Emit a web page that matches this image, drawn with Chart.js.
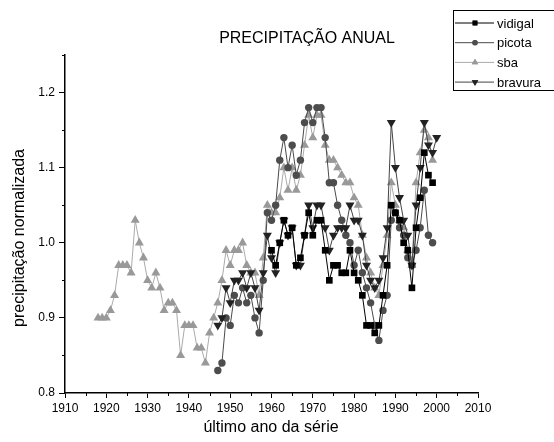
<!DOCTYPE html>
<html>
<head>
<meta charset="utf-8">
<script src="https://cdn.jsdelivr.net/npm/chart.js@4.4.0/dist/chart.umd.min.js"></script>
<style>
  html, body { margin: 0; padding: 0; background: #fff; }
  #wrap { width: 554px; height: 442px; }
</style>
</head>
<body>
<div id="wrap"><canvas id="chart" width="554" height="442"></canvas></div>
<script>
// annual precipitation, normalised, by last year of the series

var sbaYears = [1918,1919,1920,1921,1922,1923,1924,1925,1926,1927,1928,1929,1930,1931,1932,1933,1934,1935,1936,1937,1938,1939,1940,1941,1942,1943,1944,1945,1946,1947,1948,1949,1950,1951,1952,1953,1954,1955,1956,1957,1958,1959,1960,1961,1962,1963,1964,1965,1966,1967,1968,1969,1970,1971,1972,1973,1974,1975,1976,1977,1978,1979,1980,1981,1982,1983,1984,1985,1986,1987,1988,1989,1990,1991,1992,1993,1994,1995,1996,1997,1998,1999];
var sbaValues = [0.90,0.90,0.90,0.91,0.93,0.97,0.97,0.97,0.96,1.03,1.00,0.98,0.95,0.94,0.96,0.94,0.91,0.92,0.92,0.91,0.85,0.89,0.89,0.89,0.86,0.86,0.84,0.88,0.90,0.92,0.95,0.99,0.97,0.99,0.99,1.00,0.97,0.96,0.96,0.93,0.98,1.05,1.04,1.04,1.06,1.10,1.07,1.10,1.07,1.09,1.13,1.17,1.14,1.17,1.17,1.13,1.11,1.11,1.10,1.09,1.08,1.08,1.06,1.05,1.01,0.98,0.96,0.94,0.93,0.97,1.01,1.08,1.05,1.03,1.02,0.99,0.97,1.08,1.12,1.15,1.14,1.11];

var picotaYears = [1947,1948,1949,1950,1951,1952,1953,1954,1955,1956,1957,1958,1959,1960,1961,1962,1963,1964,1965,1966,1967,1968,1969,1970,1971,1972,1973,1974,1975,1976,1977,1978,1979,1980,1981,1982,1983,1984,1985,1986,1987,1988,1989,1990,1991,1992,1993,1994,1995,1996,1997,1998,1999];
var picotaValues = [0.83,0.84,0.90,0.89,0.93,0.92,0.94,0.92,0.93,0.90,0.88,0.95,1.04,1.03,1.05,1.11,1.14,1.10,1.13,1.09,1.11,1.16,1.18,1.16,1.18,1.18,1.14,1.08,1.08,1.05,1.03,1.01,1.00,0.97,0.99,0.96,0.94,0.92,0.89,0.87,0.91,0.93,1.03,1.04,1.02,1.01,0.98,0.97,0.99,1.02,1.07,1.01,1.00];

var vidigalYears = [1960,1961,1962,1963,1964,1965,1966,1967,1968,1969,1970,1971,1972,1973,1974,1975,1976,1977,1978,1979,1980,1981,1982,1983,1984,1985,1986,1987,1988,1989,1990,1991,1992,1993,1994,1995,1996,1997,1998,1999];
var vidigalValues = [0.99,0.97,1.00,1.03,1.01,1.02,0.97,0.98,1.01,1.04,1.01,1.03,1.03,0.99,0.95,0.97,0.97,0.96,0.96,0.99,0.96,0.95,0.93,0.89,0.89,0.88,0.89,0.93,0.97,1.05,1.04,1.03,1.00,0.99,0.94,1.02,1.06,1.12,1.09,1.08];

var bravuraYears = [1947,1948,1949,1950,1951,1952,1953,1954,1955,1956,1957,1958,1959,1960,1961,1962,1963,1964,1965,1966,1967,1968,1969,1970,1971,1972,1973,1974,1975,1976,1977,1978,1979,1980,1981,1982,1983,1984,1985,1986,1987,1988,1989,1990,1991,1992,1993,1994,1995,1996,1997,1998,1999,2000];
var bravuraValues = [0.89,0.90,0.94,0.92,0.95,0.95,0.96,0.94,0.96,0.94,0.91,0.96,1.01,0.98,0.96,1.00,1.03,1.01,1.02,0.97,0.97,1.01,1.05,1.02,1.05,1.05,1.02,0.99,1.01,1.02,1.02,1.02,1.05,1.03,1.03,1.01,0.97,0.95,0.94,0.95,0.98,1.02,1.16,1.10,1.06,1.03,1.01,0.97,1.05,1.10,1.16,1.13,1.12,1.14];

var xTicks = [1910,1920,1930,1940,1950,1960,1970,1980,1990,2000,2010];
var yTicks = [0.8,0.9,1.0,1.1,1.2];

function pts(xs, ys) {
  return xs.map(function (x, i) { return { x: x, y: ys[i] }; });
}

var fontFamily = '"Liberation Sans", Arial, sans-serif';

var series = [
  { label: 'vidigal', data: pts(vidigalYears, vidigalValues), line: '#000000', mark: '#000000', style: 'rect', rot: 0, r: 4.7 },
  { label: 'picota', data: pts(picotaYears, picotaValues), line: '#4a4a4a', mark: '#4d4d4d', style: 'circle', rot: 0, r: 3.7 },
  { label: 'sba', data: pts(sbaYears, sbaValues), line: '#aaaaaa', mark: '#999999', style: 'triangle', rot: 0, r: 5.2 },
  { label: 'bravura', data: pts(bravuraYears, bravuraValues), line: '#444444', mark: '#222222', style: 'triangle', rot: 180, r: 5.2 }
];

// draw order: sba at the back, then picota, bravura, vidigal on top
var order = { sba: 4, picota: 3, bravura: 2, vidigal: 1 };

var datasets = series.map(function (s) {
  return {
    label: s.label,
    data: s.data,
    showLine: true,
    borderColor: s.line,
    borderWidth: 1,
    pointStyle: s.style,
    pointRotation: s.rot,
    pointRadius: s.r,
    pointHoverRadius: s.r,
    pointBackgroundColor: s.mark,
    pointBorderColor: s.mark,
    pointBorderWidth: 0,
    clip: false,
    order: order[s.label]
  };
});

var extras = {
  id: 'extras',
  afterDraw: function (chart) {
    var ctx = chart.ctx;
    var xs = chart.scales.x, ys = chart.scales.y;
    var a = chart.chartArea;
    ctx.save();
    ctx.strokeStyle = '#000';
    ctx.lineWidth = 1;
    // minor ticks
    for (var yr = 1915; yr < 2010; yr += 10) {
      var px = Math.round(xs.getPixelForValue(yr)) + 0.5;
      ctx.beginPath(); ctx.moveTo(px, a.bottom); ctx.lineTo(px, a.bottom + 3); ctx.stroke();
    }
    for (var v = 0.85; v < 1.26; v += 0.1) {
      var py = Math.round(ys.getPixelForValue(v)) + 0.5;
      ctx.beginPath(); ctx.moveTo(a.left, py); ctx.lineTo(a.left - 3, py); ctx.stroke();
    }

    ctx.fillStyle = '#000';
    ctx.textAlign = 'center';
    ctx.textBaseline = 'middle';
    ctx.font = '16px ' + fontFamily;
    ctx.fillText('PRECIPITAÇÃO ANUAL', 307, 39);
    ctx.fillText('último ano da série', 271, 428);
    ctx.save();
    ctx.translate(20, 238);
    ctx.rotate(-Math.PI / 2);
    ctx.fillText('precipitação normalizada', 0, 0);
    ctx.restore();

    // legend box
    ctx.fillStyle = '#fff';
    ctx.fillRect(453, 10, 110, 80);
    ctx.strokeStyle = '#000';
    ctx.strokeRect(453.5, 10.5, 110, 80);
    ctx.textAlign = 'left';
    ctx.font = '13px ' + fontFamily;
    series.forEach(function (s, i) {
      var y = 23 + i * 19.7;
      ctx.strokeStyle = s.line;
      ctx.beginPath(); ctx.moveTo(455, y); ctx.lineTo(494, y); ctx.stroke();
      ctx.fillStyle = s.mark;
      Chart.helpers.drawPoint(ctx, { pointStyle: s.style, rotation: s.rot, radius: s.r * 0.72, borderWidth: 0 }, 475, y);
      ctx.fill();
      ctx.fillStyle = '#000';
      ctx.fillText(s.label, 497, y + 1);
    });
    ctx.restore();
  }
};

new Chart(document.getElementById('chart').getContext('2d'), {
  type: 'scatter',
  data: { datasets: datasets },
  plugins: [extras],
  options: {
    responsive: false,
    animation: false,
    layout: { padding: { top: 55, right: 76, left: 0, bottom: 0 } },
    plugins: { legend: { display: false }, tooltip: { enabled: false }, title: { display: false } },
    scales: {
      x: {
        type: 'linear',
        min: 1910,
        max: 2010,
        afterBuildTicks: function (scale) {
          scale.ticks = xTicks.map(function (v) { return { value: v }; });
        },
        afterFit: function (scale) { scale.height = 49; },
        grid: { drawOnChartArea: false, drawTicks: true, tickLength: 5, color: '#000', tickWidth: 1 },
        border: { display: true, color: '#000', width: 1.5 },
        ticks: { color: '#000', font: { family: fontFamily, size: 12 }, padding: 3, maxRotation: 0, autoSkip: false,
          callback: function (v) { return String(v); } }
      },
      y: {
        type: 'linear',
        min: 0.8,
        max: 1.25,
        afterBuildTicks: function (scale) {
          scale.ticks = yTicks.map(function (v) { return { value: v }; });
        },
        afterFit: function (scale) { scale.width = 65; },
        grid: { drawOnChartArea: false, drawTicks: true, tickLength: 6, color: '#000', tickWidth: 1 },
        border: { display: true, color: '#000', width: 1.5 },
        ticks: { color: '#000', font: { family: fontFamily, size: 12 }, padding: 4, autoSkip: false,
          callback: function (v) { return v.toFixed(1); } }
      }
    }
  }
});
</script>
</body>
</html>
